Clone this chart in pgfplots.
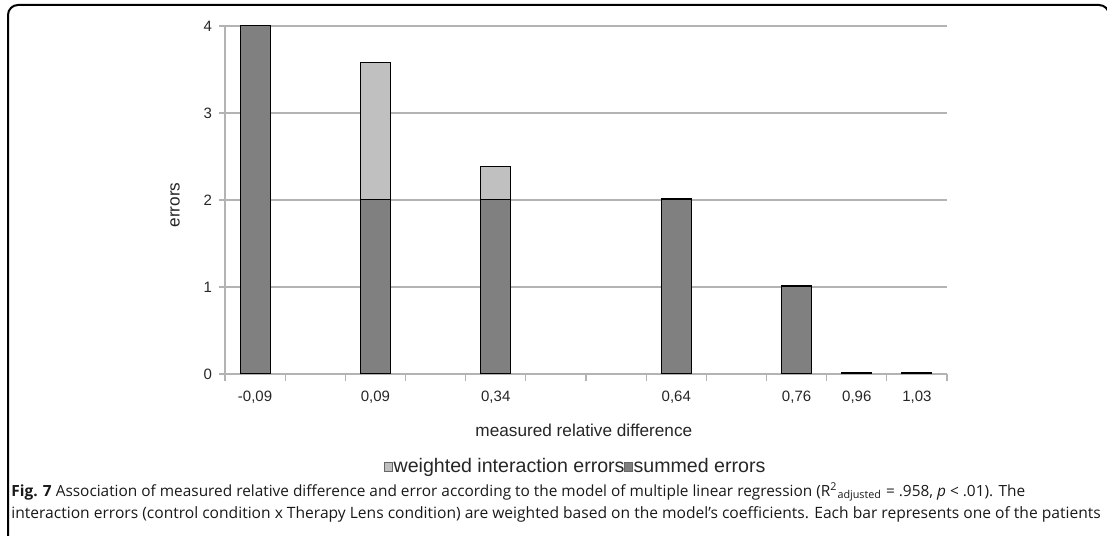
\documentclass[border=0pt]{standalone}
\usepackage{pgfplots}
\pgfplotsset{compat=1.18}
\usepackage{fontspec}
\setmainfont{Liberation Sans}
\newfontfamily\capfont{Open Sans}
\definecolor{darkbar}{HTML}{808080}
\definecolor{lightbar}{HTML}{C0C0C0}
\definecolor{axgray}{HTML}{B3B3B3}
\begin{document}
\begin{tikzpicture}
\useasboundingbox (0,0) rectangle (553.5pt,267.5pt);
\draw[line width=1pt, rounded corners=5pt] (4pt,-20pt) -- (4pt,265pt) -- (554.5pt,265pt) -- (554.5pt,-20pt);
\begin{axis}[
  at={(112.5pt,80.5pt)}, anchor=south west,
  scale only axis, width=361pt, height=174pt,
  xmin=0, xmax=12, ymin=0, ymax=4,
  axis lines=left, axis line style={-, draw=axgray, line width=0.6pt},
  ybar stacked, bar width=15pt,
  xtick={0.5,2.5,4.5,7.5,9.5,10.5,11.5},
  xticklabels={{-0,09},{0,09},{0,34},{0,64},{0,76},{0,96},{1,03}},
  minor xtick={0,1,...,12},
  ytick={0,1,2,3,4},
  tick align=outside,
  major tick length=3pt, minor tick length=3.5pt,
  major x tick style={draw=none},
  minor x tick style={draw=axgray, line width=0.6pt},
  y tick style={draw=axgray, line width=0.6pt},
  ymajorgrids, major grid style={draw=axgray, line width=0.6pt},
  /pgf/number format/assume math mode=true,
  tick label style={font=\fontsize{7.5}{9}\selectfont, text=black!85},
  xticklabel style={yshift=-2pt},
  xlabel={measured relative difference},
  ylabel={errors},
  label style={font=\fontsize{8.6}{10.5}\selectfont, text=black!85},
  xlabel style={at={(axis description cs:0.497,-0.161)}, anchor=center},
  ylabel style={at={(axis description cs:-0.069,0.486)}, anchor=center, rotate=0},
  legend style={at={(axis description cs:0.486,-0.267)}, anchor=center,
    draw=none, fill=none, font=\fontsize{9.8}{11}\selectfont, text=black!85,
    /tikz/every odd column/.append style={column sep=-1pt},
    /tikz/every even column/.append style={column sep=-1.5pt},
    nodes={inner xsep=1.2pt},
    legend cell align=left},
  legend columns=2,
  legend image code/.code={\draw[#1] (0pt,-2.2pt) rectangle (4.2pt,2.2pt);},
  clip=false,
]
\addlegendimage{fill=lightbar, draw=black!60, line width=0.4pt}
\addlegendentry{weighted interaction errors}
\addlegendimage{fill=darkbar, draw=black!60, line width=0.4pt}
\addlegendentry{summed errors}
\addplot+[forget plot, fill=darkbar, draw=black, line width=0.5pt] coordinates {
  (0.5,4) (2.5,2) (4.5,2) (7.5,2) (9.5,1) (10.5,0) (11.5,0)};
\addplot+[forget plot, fill=lightbar, draw=black, line width=0.5pt] coordinates {
  (0.5,0) (2.5,1.58) (4.5,0.39) (7.5,0.015) (9.5,0.015) (10.5,0.02) (11.5,0.02)};
\end{axis}
\node[anchor=base west, font=\capfont\fontsize{7.7}{9}\selectfont, text=black!90, inner sep=0pt] at (5.5pt,19.5pt)
  {\textbf{Fig. 7} Association of measured relative difference and error according to the model of multiple linear regression (R\textsuperscript{2}\textsubscript{adjusted} = .958, \textit{p} < .01). The};
\node[anchor=base west, font=\capfont\fontsize{7.8}{9}\selectfont, text=black!90, inner sep=0pt] at (5.5pt,8.5pt)
  {interaction errors (control condition x Therapy Lens condition) are weighted based on the model’s coefficients. Each bar represents one of the patients};
\end{tikzpicture}
\end{document}
